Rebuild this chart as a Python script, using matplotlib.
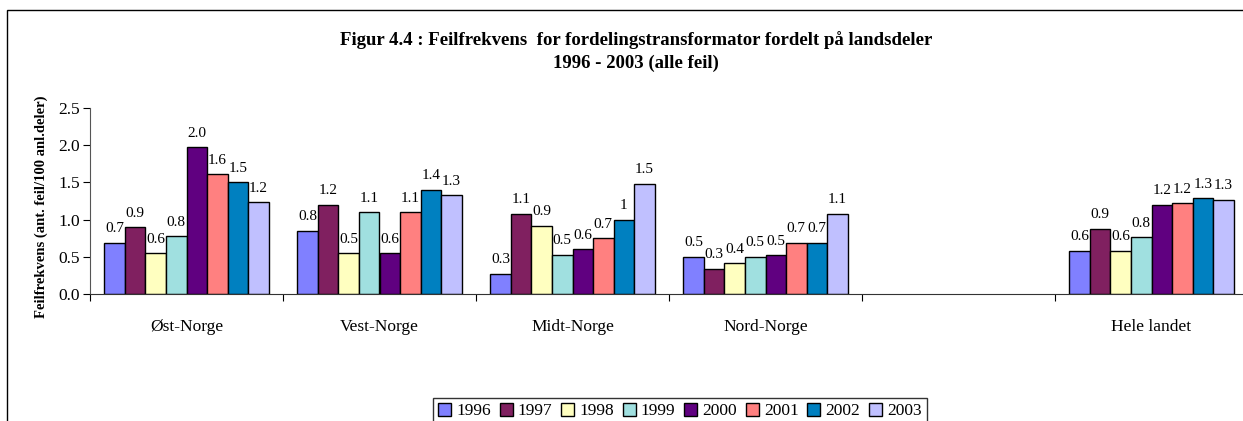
import matplotlib.pyplot as plt
import numpy as np
from matplotlib.patches import Rectangle

plt.rcParams["font.family"] = ["Liberation Serif", "DejaVu Serif"]

regions = ["Øst-Norge", "Vest-Norge", "Midt-Norge", "Nord-Norge", "", "Hele landet"]
years = ["1996", "1997", "1998", "1999", "2000", "2001", "2002", "2003"]
colors = ["#8080FF", "#802060", "#FFFFC0", "#A0E0E0", "#600080", "#FF8080", "#0080C0", "#C0C0FF"]

# one list per region, values by year 1996..2003 (empty slot has none)
ost = [0.69, 0.90, 0.55, 0.78, 1.97, 1.61, 1.50, 1.23]
vest = [0.85, 1.20, 0.55, 1.10, 0.55, 1.10, 1.40, 1.33]
midt = [0.27, 1.08, 0.92, 0.53, 0.60, 0.75, 1.00, 1.48]
nord = [0.50, 0.34, 0.41, 0.50, 0.52, 0.69, 0.69, 1.08]
tom = [np.nan] * 8
hele = [0.58, 0.88, 0.58, 0.76, 1.20, 1.22, 1.29, 1.27]

ost_lab = ["0.7", "0.9", "0.6", "0.8", "2.0", "1.6", "1.5", "1.2"]
vest_lab = ["0.8", "1.2", "0.5", "1.1", "0.6", "1.1", "1.4", "1.3"]
midt_lab = ["0.3", "1.1", "0.9", "0.5", "0.6", "0.7", "1", "1.5"]
nord_lab = ["0.5", "0.3", "0.4", "0.5", "0.5", "0.7", "0.7", "1.1"]
tom_lab = [""] * 8
hele_lab = ["0.6", "0.9", "0.6", "0.8", "1.2", "1.2", "1.3", "1.3"]

values = np.array([ost, vest, midt, nord, tom, hele])
labels = [ost_lab, vest_lab, midt_lab, nord_lab, tom_lab, hele_lab]

fig = plt.figure(figsize=(12.43, 4.21), dpi=100)
ax = fig.add_axes([90 / 1243, 1 - 294 / 421, 1158 / 1243, 186 / 421])

x = np.arange(len(regions))
width = 0.85 / len(years)
for j, year in enumerate(years):
    pos = x - 0.425 + width * (j + 0.5)
    ax.bar(pos, values[:, j], width, color=colors[j], edgecolor="black",
           linewidth=1.0, label=year, zorder=2)
    for i in range(len(regions)):
        if labels[i][j]:
            ax.text(pos[i], values[i, j] + 0.1, labels[i][j], ha="center",
                    va="bottom", fontsize=11)

ax.set_xlim(-0.5, len(regions) - 0.5)
ax.set_ylim(0, 2.5)
ax.set_yticks(np.arange(0, 2.51, 0.5))
ax.set_yticklabels([f"{v:.1f}" for v in np.arange(0, 2.51, 0.5)], fontsize=12.5)
ax.set_xticks(np.arange(-0.5, len(regions), 1.0))
ax.set_xticklabels([])
ax.set_xticks(x, minor=True)
ax.set_xticklabels(regions, minor=True, fontsize=12.5)
ax.tick_params(axis="x", which="minor", length=0, pad=18)
ax.tick_params(axis="x", which="major", length=5, direction="out")
ax.tick_params(axis="y", length=5, direction="out", pad=2)
for s in ("top", "right"):
    ax.spines[s].set_visible(False)
ax.spines["left"].set_color("#555555")
ax.spines["bottom"].set_color("#333333")

ax.set_ylabel("Feilfrekvens (ant. feil/100 anl.deler)", fontsize=10.5,
              fontweight="bold")
ax.yaxis.set_label_coords(-0.036, 0.47)

fig.text(0.512, 1 - 40 / 421, "Figur 4.4 : Feilfrekvens  for fordelingstransformator fordelt på landsdeler",
         ha="center", va="center", fontsize=13.5, fontweight="bold")
fig.text(0.512, 1 - 63 / 421, "1996 - 2003 (alle feil)",
         ha="center", va="center", fontsize=13.5, fontweight="bold")

fig.patches.append(Rectangle((7 / 1243, -0.1), 1.2, 1 - 10 / 421 + 0.1,
                             transform=fig.transFigure, fill=False,
                             edgecolor="black", linewidth=1.0))

fig.legend(loc="upper center", bbox_to_anchor=(680 / 1243, 1 - 389 / 421),
           ncol=8, fontsize=12.5, frameon=True, fancybox=False,
           edgecolor="black", handlelength=0.75, handleheight=0.75,
           handletextpad=0.3, columnspacing=0.5, borderpad=0.3)

fig.savefig("out.png", dpi=100)
